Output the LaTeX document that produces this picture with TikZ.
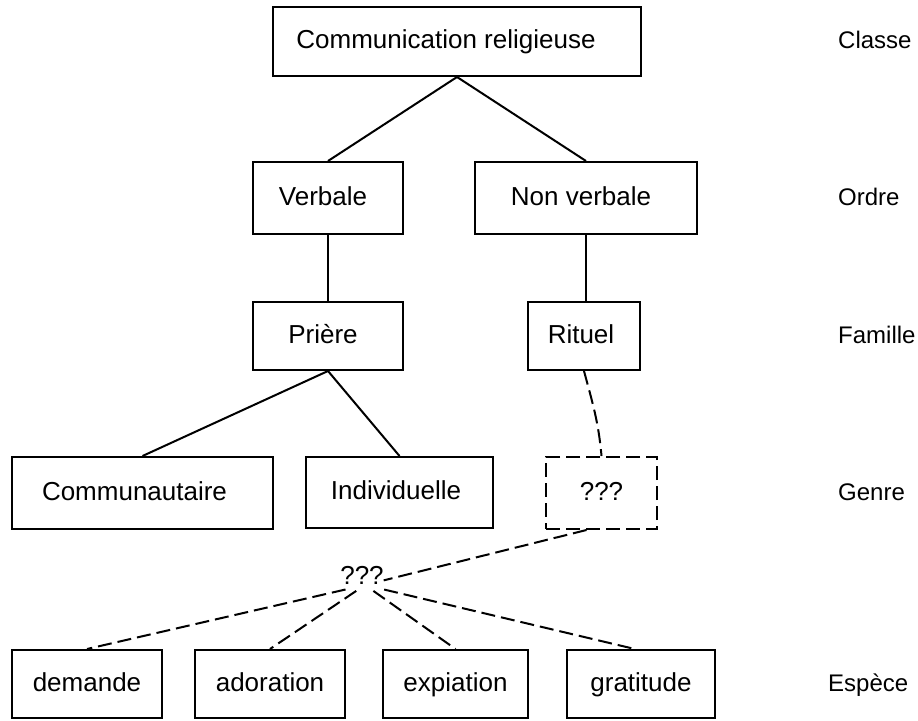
\documentclass[tikz,border=0pt]{standalone}
\usepackage{fontspec}
\setmainfont{Liberation Sans}
\usetikzlibrary{shapes.geometric}
\begin{document}
\begin{tikzpicture}[x=1pt,y=-1pt,
  every node/.style={font=\fontsize{26}{30}\selectfont, inner sep=0pt, text height=19pt, text depth=5pt},
  box/.style={draw, line width=2pt, rectangle},
  dbox/.style={draw, line width=2pt, rectangle, dash pattern=on 14pt off 6pt},
  conn/.style={line width=2pt},
  dconn/.style={line width=2pt, dash pattern=on 14pt off 6pt},
  lvl/.style={anchor=west, font=\fontsize{24}{28}\selectfont},
  hubstyle/.style={ellipse, minimum width=56pt, minimum height=12pt, inner sep=0pt, text height=0pt, text depth=0pt}]
\useasboundingbox (0,0) rectangle (918,720);
% boxes
\node[box, minimum width=368pt, minimum height=69pt] (top) at (457,41.5) {Communication religieuse\hspace*{22pt}};
\node[box, minimum width=150pt, minimum height=72pt] (verb) at (328,198) {Verbale\hspace*{10pt}};
\node[box, minimum width=222pt, minimum height=72pt] (nverb) at (586,198) {Non verbale\hspace*{10pt}};
\node[box, minimum width=150pt, minimum height=68pt] (priere) at (328,336) {Prière\hspace*{10pt}};
\node[box, minimum width=112pt, minimum height=68pt] (rituel) at (584,336) {Rituel\hspace*{6pt}};
\node[box, minimum width=261pt, minimum height=72pt] (commu) at (142.5,493) {Communautaire\hspace*{16pt}};
\node[box, minimum width=187pt, minimum height=71pt] (indiv) at (399.5,492.5) {Individuelle\hspace*{7pt}};
\node[dbox, minimum width=111pt, minimum height=72pt] (g3) at (601.5,493) {???};
\node[box, minimum width=150pt, minimum height=68pt] (dem) at (87,684) {demande};
\node[box, minimum width=150pt, minimum height=68pt] (ado) at (270,684) {adoration};
\node[box, minimum width=145pt, minimum height=68pt] (exp) at (455.5,684) {expiation};
\node[box, minimum width=148pt, minimum height=68pt] (gra) at (641,684) {gratitude};
% ??? label between levels
\node (qtext) at (362,577) {???};
\node[hubstyle] (hub) at (365,585) {};
% level labels
\node[lvl] (classe) at (838,41.5) {Classe};
\node[lvl] (ordre) at (838,198) {Ordre};
\node[lvl] (famille) at (838,336) {Famille};
\node[lvl] (genre) at (838,493) {Genre};
\node[lvl] (espece) at (828,684) {Espèce};
% connectors
\draw[conn] (top.south) -- (verb.north);
\draw[conn] (top.south) -- (nverb.north);
\draw[conn] (verb.south) -- (priere.north);
\draw[conn] (nverb.south) -- (nverb.south |- rituel.north);
\draw[conn] (priere.south) -- (commu.north);
\draw[conn] (priere.south) -- (indiv.north);
\draw[dconn] (rituel.south) to[out=-75,in=95] (g3.north);
\draw[dconn] (g3.-112) -- (hub);
\draw[dconn] (hub) -- (dem.north);
\draw[dconn] (hub) -- (ado.north);
\draw[dconn] (hub) -- (exp.north);
\draw[dconn] (hub) -- (gra.100);
\end{tikzpicture}
\end{document}
